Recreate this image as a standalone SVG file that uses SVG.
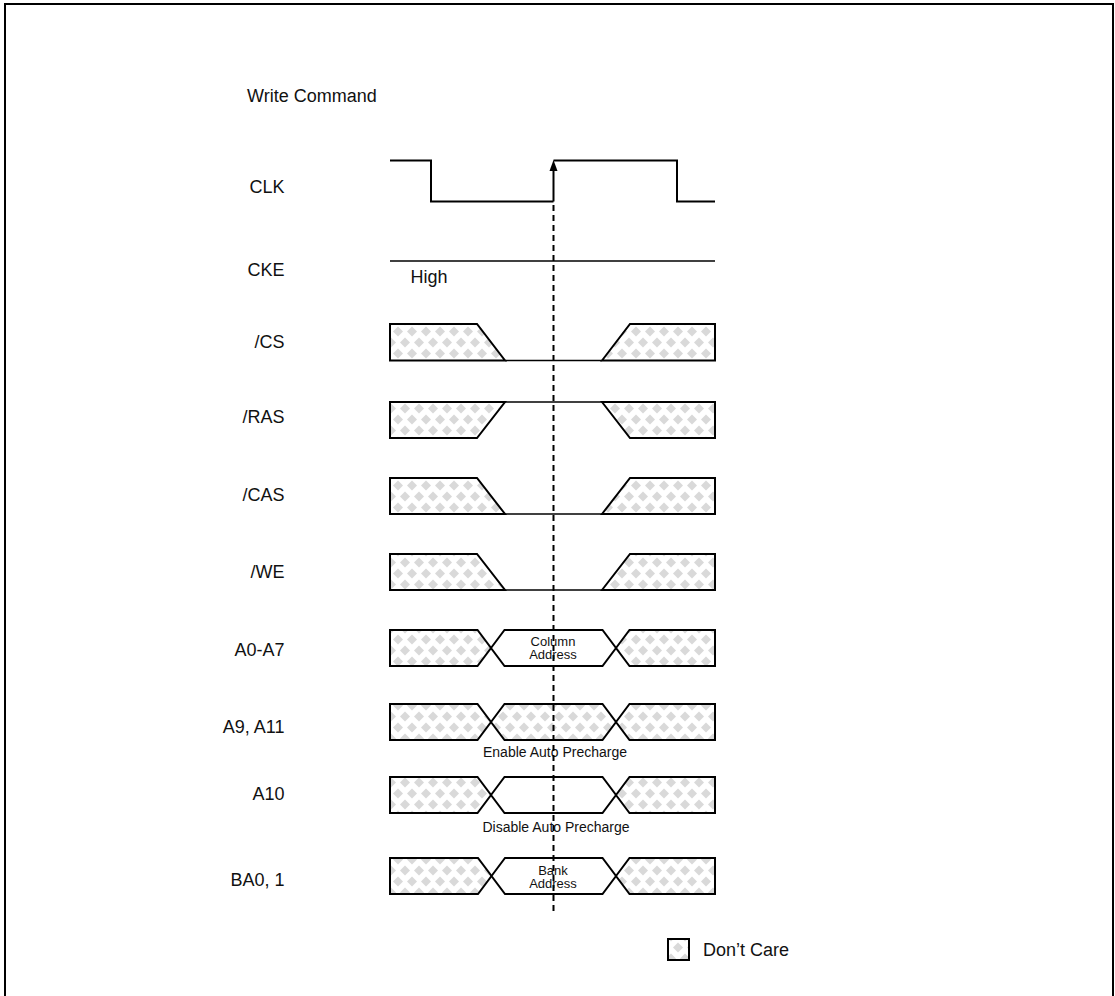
<svg xmlns="http://www.w3.org/2000/svg" width="1115" height="996" viewBox="0 0 1115 996">
<style>
text{font-family:"Liberation Sans",Arial,sans-serif;fill:#111}
.lbl{font-size:18px;text-anchor:end}
.sm{font-size:14px;text-anchor:middle}
.sm2{font-size:13px;text-anchor:middle}
.dc{fill:url(#dc);stroke:#000;stroke-width:2;stroke-linejoin:miter}
.wh{fill:#fff;stroke:#000;stroke-width:2;stroke-linejoin:miter}
.ln{fill:none;stroke:#000;stroke-width:1.5}
.sig{fill:none;stroke:#000;stroke-width:2}
.dash{fill:none;stroke:#000;stroke-width:2;stroke-dasharray:6,4}
</style>
<defs>
<pattern id="dc" patternUnits="userSpaceOnUse" x="391" y="326" width="14" height="22">
<rect width="14" height="22" fill="#fff"/>
<path d="M7,0.5 L12,5.5 L7,10.5 L2,5.5Z M0,11.5 L5,16.5 L0,21.5 L-5,16.5Z M14,11.5 L19,16.5 L14,21.5 L9,16.5Z" fill="#d9d9d9"/>
</pattern>
</defs>
<rect x="0" y="0" width="1115" height="996" fill="#fff"/>
<rect x="5" y="4" width="1108" height="1010" fill="none" stroke="#000" stroke-width="2"/>

<g id="title"><text x="247" y="102" style="font-size:18px">Write Command</text></g>

<g id="clk">
<text class="lbl" x="284.5" y="193">CLK</text>
<path class="sig" d="M390,160.5 H431 V201.5 H553.5"/>
<path class="sig" d="M553.5,160.5 H677 V201.5 H715"/>
</g>

<g id="cke">
<text class="lbl" x="284.5" y="276">CKE</text>
<path class="ln" d="M390,261 H715"/>
<text x="410.5" y="283" style="font-size:18px">High</text>
</g>

<g id="cs">
<text class="lbl" x="284.5" y="348">/CS</text>
<path class="dc" d="M390,324 H477 L505,360.5 H390Z"/>
<path class="ln" d="M505,360.5 H602"/>
<path class="dc" d="M602,360.5 L630,324 H715 V360.5Z"/>
</g>

<g id="ras">
<text class="lbl" x="284.5" y="423">/RAS</text>
<path class="dc" d="M390,402 H505 L477,438 H390Z"/>
<path class="ln" d="M505,402 H602"/>
<path class="dc" d="M602,402 L630,438 H715 V402Z"/>
</g>

<g id="cas">
<text class="lbl" x="284.5" y="501">/CAS</text>
<path class="dc" d="M390,478 H477 L505,514 H390Z"/>
<path class="ln" d="M505,514 H602"/>
<path class="dc" d="M602,514 L630,478 H715 V514Z"/>
</g>

<g id="we">
<text class="lbl" x="284.5" y="578">/WE</text>
<path class="dc" d="M390,554 H477 L505,590 H390Z"/>
<path class="ln" d="M505,590 H602"/>
<path class="dc" d="M602,590 L630,554 H715 V590Z"/>
</g>

<g id="a0a7">
<text class="lbl" x="284.5" y="656">A0-A7</text>
<path class="dc" d="M390,630 H477.5 L491,648 L477.5,666 H390Z"/>
<path class="wh" d="M491,648 L504.5,630 H602.5 L616,648 L602.5,666 H504.5Z"/>
<path class="dc" d="M616,648 L629.5,630 H715 V666 H629.5Z"/>
<text class="sm2" x="553" y="646">Column</text>
<text class="sm2" x="553" y="659">Address</text>
</g>

<g id="a9a11">
<text class="lbl" x="284.5" y="733">A9, A11</text>
<path class="dc" d="M390,704 H477.5 L491,722 L477.5,740 H390Z"/>
<path class="dc" d="M491,722 L504.5,704 H602.5 L616,722 L602.5,740 H504.5Z"/>
<path class="dc" d="M616,722 L629.5,704 H715 V740 H629.5Z"/>
<text class="sm" x="555" y="757">Enable Auto Precharge</text>
</g>

<g id="a10">
<text class="lbl" x="284.5" y="800">A10</text>
<path class="dc" d="M390,777 H477.5 L491,795 L477.5,813 H390Z"/>
<path class="wh" d="M491,795 L504.5,777 H602.5 L616,795 L602.5,813 H504.5Z"/>
<path class="dc" d="M616,795 L629.5,777 H715 V813 H629.5Z"/>
<text class="sm" x="556" y="832">Disable Auto Precharge</text>
</g>

<g id="ba01">
<text class="lbl" x="284.5" y="886">BA0, 1</text>
<path class="dc" d="M390,858 H478 L491.5,876 L478,894 H390Z"/>
<path class="wh" d="M491.5,876 L505,858 H602.5 L616,876 L602.5,894 H505Z"/>
<path class="dc" d="M616,876 L629.5,858 H715 V894 H629.5Z"/>
<text class="sm2" x="553" y="875">Bank</text>
<text class="sm2" x="553" y="888">Address</text>
</g>

<g id="legend">
<rect class="dc" x="668" y="939" width="21" height="21"/>
<text x="703" y="956" style="font-size:18px">Don’t Care</text>
</g>

<g id="connectors">
<path class="sig" d="M553.5,201.5 V168"/>
<path d="M553.5,160 L549.5,171 L557.5,171Z" fill="#000"/>
<path class="dash" d="M553.5,205 V912"/>
</g>
</svg>
